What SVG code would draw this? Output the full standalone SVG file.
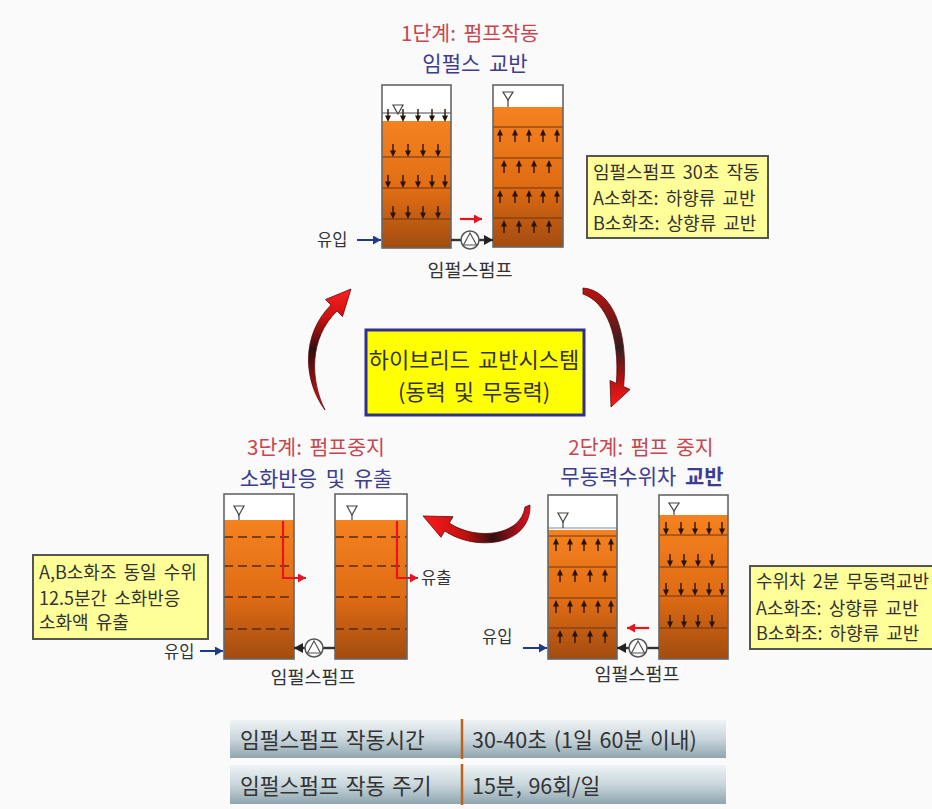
<svg xmlns="http://www.w3.org/2000/svg" width="932" height="809" viewBox="0 0 932 809">
<style>
  text{font-family:"Noto Sans CJK KR","Noto Sans",sans-serif;}
  .ttlR{font-size:20.5px;fill:#c8464f;text-anchor:middle;word-spacing:3px}
  .ttlB{font-size:21px;fill:#3d3d8f;text-anchor:middle;word-spacing:4px}
  .lbl{font-size:16.5px;fill:#333}
  .lblc{font-size:18.5px;fill:#333;text-anchor:middle}
  .box{fill:#ffff99;stroke:#555;stroke-width:2}
  .boxt{font-size:18px;fill:#333;word-spacing:3px}
  .tank{fill:none;stroke:#666;stroke-width:1.6}
  .water{fill:url(#wat)}
  .row{stroke:#6e3510;stroke-width:1.2}
  .dash{stroke:#5a2a0a;stroke-width:1.7;stroke-dasharray:9 5}
  .lvl{fill:#fff;stroke:#444;stroke-width:1.2}
  .pipe{stroke:#333;stroke-width:2.4;fill:none}
  .pipeA{stroke:#333;stroke-width:2.4;fill:none;marker-end:url(#mBlk)}
  .in{stroke:#1f3a8a;stroke-width:2;fill:none;marker-end:url(#mBlue)}
  .red{stroke:#e8141e;stroke-width:2.2;fill:none;marker-end:url(#mRed)}
  .pump{fill:#fff;stroke:#555;stroke-width:1.5}
  .ptri{fill:none;stroke:#555;stroke-width:1.2}
  .tbt{font-size:21.5px;fill:#333;word-spacing:2px}
</style>
<defs>
  <linearGradient id="wat" x1="0" y1="0" x2="0" y2="1">
    <stop offset="0" stop-color="#f5821f"/>
    <stop offset="0.55" stop-color="#e06c14"/>
    <stop offset="1" stop-color="#a24c10"/>
  </linearGradient>
  <linearGradient id="tg" x1="0" y1="0" x2="0" y2="1">
    <stop offset="0" stop-color="#eef3f5"/>
    <stop offset="0.5" stop-color="#c9d6dc"/>
    <stop offset="1" stop-color="#8fa5af"/>
  </linearGradient>
  <linearGradient id="gL" x1="0" y1="0" x2="0" y2="1">
    <stop offset="0" stop-color="#ff2020"/>
    <stop offset="0.25" stop-color="#c81010"/>
    <stop offset="0.5" stop-color="#2e1010"/>
    <stop offset="0.8" stop-color="#a01010"/>
    <stop offset="1" stop-color="#e81010"/>
  </linearGradient>
  <linearGradient id="gR" x1="0" y1="0" x2="0" y2="1">
    <stop offset="0" stop-color="#c01010"/>
    <stop offset="0.5" stop-color="#302020"/>
    <stop offset="0.75" stop-color="#b01010"/>
    <stop offset="1" stop-color="#ff1a1a"/>
  </linearGradient>
  <linearGradient id="gM" x1="0" y1="0" x2="1" y2="0">
    <stop offset="0" stop-color="#ff1a1a"/>
    <stop offset="0.4" stop-color="#c01010"/>
    <stop offset="0.65" stop-color="#301010"/>
    <stop offset="1" stop-color="#e01020"/>
  </linearGradient>
  <marker id="mBlue" markerUnits="userSpaceOnUse" markerWidth="9" markerHeight="9" refX="8" refY="4.5" orient="auto">
    <path d="M0,0 L8,4.5 L0,9 Z" fill="#1f3a8a"/>
  </marker>
  <marker id="mBlk" markerUnits="userSpaceOnUse" markerWidth="10" markerHeight="10" refX="9" refY="5" orient="auto">
    <path d="M0,0 L9,5 L0,10 Z" fill="#222"/>
  </marker>
  <marker id="mRed" markerUnits="userSpaceOnUse" markerWidth="9" markerHeight="9" refX="8" refY="4.5" orient="auto">
    <path d="M0,0 L8,4.5 L0,9 Z" fill="#e8141e"/>
  </marker>
  <!-- small flow arrows inside tanks: tip at origin -->
  <g id="dn"><line x1="0" y1="-13" x2="0" y2="-4" stroke="#2a1408" stroke-width="1.4"/><path d="M-3,-6.5 L3,-6.5 L0,0 Z" fill="#2a1408"/></g>
  <g id="up"><line x1="0" y1="13" x2="0" y2="4" stroke="#2a1408" stroke-width="1.4"/><path d="M-3,6.5 L3,6.5 L0,0 Z" fill="#2a1408"/></g>
  <g id="pumpSym"><circle r="9" class="pump"/><path d="M0,-7 L-6.5,5 L6.5,5 Z" class="ptri"/></g>
</defs>

<rect width="932" height="809" fill="#fafafa"/>

<!-- Stage 1: pump running, impulse mixing -->
<g id="stage1">
  <text class="ttlR" x="470" y="41">1단계: 펌프작동</text>
  <text class="ttlB" x="475" y="71">임펄스 교반</text>
  <!-- tank A -->
  <rect x="382" y="85" width="69" height="163" fill="#fff"/>
  <rect x="382" y="121" width="69" height="127" class="water"/>
  <line x1="382" y1="113" x2="451" y2="113" stroke="#444" stroke-width="1"/>
  <path d="M393,105 H403 L398,114 Z" class="lvl"/>
  <line x1="382" y1="157" x2="451" y2="157" class="row"/>
  <line x1="382" y1="188" x2="451" y2="188" class="row"/>
  <line x1="382" y1="219" x2="451" y2="219" class="row"/>
  <use href="#dn" x="388" y="122"/><use href="#dn" x="403" y="122"/><use href="#dn" x="418" y="122"/><use href="#dn" x="432" y="122"/><use href="#dn" x="445" y="122"/>
  <use href="#dn" x="393" y="157"/><use href="#dn" x="408" y="157"/><use href="#dn" x="423" y="157"/><use href="#dn" x="438" y="157"/>
  <use href="#dn" x="388" y="188"/><use href="#dn" x="403" y="188"/><use href="#dn" x="418" y="188"/><use href="#dn" x="432" y="188"/><use href="#dn" x="445" y="188"/>
  <use href="#dn" x="393" y="219"/><use href="#dn" x="408" y="219"/><use href="#dn" x="423" y="219"/><use href="#dn" x="438" y="219"/>
  <rect x="382" y="85" width="69" height="163" class="tank"/>
  <!-- tank B -->
  <rect x="493" y="85" width="70" height="162" fill="#fff"/>
  <rect x="493" y="107" width="70" height="140" class="water"/>
  <path d="M503,92 H513 L508,100 Z" class="lvl"/>
  <line x1="508" y1="100" x2="508" y2="107" stroke="#444" stroke-width="1.2"/>
  <line x1="493" y1="127" x2="563" y2="127" class="row"/>
  <line x1="493" y1="158" x2="563" y2="158" class="row"/>
  <line x1="493" y1="188" x2="563" y2="188" class="row"/>
  <line x1="493" y1="218" x2="563" y2="218" class="row"/>
  <use href="#up" x="500" y="129"/><use href="#up" x="515" y="129"/><use href="#up" x="529" y="129"/><use href="#up" x="543" y="129"/><use href="#up" x="557" y="129"/>
  <use href="#up" x="504" y="160"/><use href="#up" x="519" y="160"/><use href="#up" x="534" y="160"/><use href="#up" x="549" y="160"/>
  <use href="#up" x="500" y="190"/><use href="#up" x="515" y="190"/><use href="#up" x="529" y="190"/><use href="#up" x="543" y="190"/><use href="#up" x="557" y="190"/>
  <use href="#up" x="504" y="220"/><use href="#up" x="519" y="220"/><use href="#up" x="534" y="220"/><use href="#up" x="549" y="220"/>
  <rect x="493" y="85" width="70" height="162" class="tank"/>
  <!-- pump and flows -->
  <line x1="451" y1="240" x2="461" y2="240" class="pipe"/>
  <line x1="479" y1="240" x2="493" y2="240" class="pipeA"/>
  <use href="#pumpSym" x="470" y="240"/>
  <line x1="460" y1="219" x2="482" y2="219" class="red"/>
  <line x1="357" y1="240" x2="381" y2="240" class="in"/>
  <text class="lbl" x="317" y="246">유입</text>
  <text class="lblc" x="470" y="277">임펄스펌프</text>
</g>

<g id="note1">
  <rect x="587" y="156" width="181" height="82" class="box"/>
  <text class="boxt" x="593" y="179">임펄스펌프 30초 작동</text>
  <text class="boxt" x="593" y="205">A소화조: 하향류 교반</text>
  <text class="boxt" x="593" y="230">B소화조: 상향류 교반</text>
</g>

<g id="center">
  <rect x="366" y="330" width="218" height="85" fill="#ffff00" stroke="#2e3192" stroke-width="3"/>
  <text x="474" y="368" font-size="22" fill="#333" text-anchor="middle" word-spacing="3">하이브리드 교반시스템</text>
  <text x="474" y="400" font-size="22" fill="#333" text-anchor="middle" word-spacing="3">(동력 및 무동력)</text>
</g>

<!-- Stage 3: pump stopped, digestion and discharge -->
<g id="stage3">
  <text class="ttlR" x="316" y="455">3단계: 펌프중지</text>
  <text class="ttlB" x="316" y="486">소화반응 및 유출</text>
  <rect x="224" y="494" width="70" height="165" fill="#fff"/>
  <rect x="224" y="520" width="70" height="139" class="water"/>
  <path d="M234,506 H244 L239,515 Z" class="lvl"/>
  <line x1="239" y1="515" x2="239" y2="520" stroke="#444" stroke-width="1.2"/>
  <line x1="224" y1="537" x2="294" y2="537" class="dash"/>
  <line x1="224" y1="566" x2="294" y2="566" class="dash"/>
  <line x1="224" y1="597" x2="294" y2="597" class="dash"/>
  <line x1="224" y1="629" x2="294" y2="629" class="dash"/>
  <rect x="224" y="494" width="70" height="165" class="tank"/>
  <rect x="335" y="494" width="72" height="165" fill="#fff"/>
  <rect x="335" y="520" width="72" height="139" class="water"/>
  <path d="M347,506 H357 L352,515 Z" class="lvl"/>
  <line x1="352" y1="515" x2="352" y2="520" stroke="#444" stroke-width="1.2"/>
  <line x1="335" y1="537" x2="407" y2="537" class="dash"/>
  <line x1="335" y1="566" x2="407" y2="566" class="dash"/>
  <line x1="335" y1="597" x2="407" y2="597" class="dash"/>
  <line x1="335" y1="629" x2="407" y2="629" class="dash"/>
  <rect x="335" y="494" width="72" height="165" class="tank"/>
  <path d="M283,521 V578 H306" class="red"/>
  <path d="M397,521 V578 H418" class="red"/>
  <text class="lbl" x="421" y="584">유출</text>
  <line x1="335" y1="648" x2="323" y2="648" class="pipe"/>
  <line x1="305" y1="648" x2="294" y2="648" class="pipeA"/>
  <use href="#pumpSym" x="314" y="648"/>
  <line x1="200" y1="651" x2="223" y2="651" class="in"/>
  <text class="lbl" x="164" y="658">유입</text>
  <text class="lblc" x="313" y="684">임펄스펌프</text>
</g>

<g id="note3">
  <rect x="33" y="555" width="175" height="84" class="box"/>
  <text class="boxt" x="39" y="579">A,B소화조 동일 수위</text>
  <text class="boxt" x="39" y="605">12.5분간 소화반응</text>
  <text class="boxt" x="39" y="629">소화액 유출</text>
</g>

<!-- Stage 2: pump stopped, passive head-difference mixing -->
<g id="stage2">
  <text class="ttlR" x="641" y="455">2단계: 펌프 중지</text>
  <text class="ttlB" x="642" y="484">무동력수위차 <tspan font-weight="bold">교반</tspan></text>
  <rect x="548" y="495" width="69" height="164" fill="#fff"/>
  <line x1="548" y1="528" x2="617" y2="528" stroke="#9fb6c6" stroke-width="1.5"/>
  <rect x="548" y="530" width="69" height="129" class="water"/>
  <path d="M558,513 H568 L563,522 Z" class="lvl"/>
  <line x1="563" y1="522" x2="563" y2="528" stroke="#444" stroke-width="1.2"/>
  <line x1="548" y1="536" x2="617" y2="536" class="row"/>
  <line x1="548" y1="567" x2="617" y2="567" class="row"/>
  <line x1="548" y1="598" x2="617" y2="598" class="row"/>
  <line x1="548" y1="628" x2="617" y2="628" class="row"/>
  <use href="#up" x="556" y="538"/><use href="#up" x="570" y="538"/><use href="#up" x="584" y="538"/><use href="#up" x="598" y="538"/><use href="#up" x="611" y="538"/>
  <use href="#up" x="560" y="569"/><use href="#up" x="575" y="569"/><use href="#up" x="590" y="569"/><use href="#up" x="605" y="569"/>
  <use href="#up" x="556" y="600"/><use href="#up" x="570" y="600"/><use href="#up" x="584" y="600"/><use href="#up" x="598" y="600"/><use href="#up" x="611" y="600"/>
  <use href="#up" x="560" y="630"/><use href="#up" x="575" y="630"/><use href="#up" x="590" y="630"/><use href="#up" x="605" y="630"/>
  <rect x="548" y="495" width="69" height="164" class="tank"/>
  <rect x="659" y="495" width="69" height="164" fill="#fff"/>
  <rect x="659" y="515" width="69" height="144" class="water"/>
  <path d="M669,503 H679 L674,511 Z" class="lvl"/>
  <line x1="674" y1="511" x2="674" y2="515" stroke="#444" stroke-width="1.2"/>
  <line x1="659" y1="535" x2="728" y2="535" class="row"/>
  <line x1="659" y1="567" x2="728" y2="567" class="row"/>
  <line x1="659" y1="596" x2="728" y2="596" class="row"/>
  <line x1="659" y1="628" x2="728" y2="628" class="row"/>
  <use href="#dn" x="666" y="535"/><use href="#dn" x="681" y="535"/><use href="#dn" x="695" y="535"/><use href="#dn" x="709" y="535"/><use href="#dn" x="722" y="535"/>
  <use href="#dn" x="670" y="567"/><use href="#dn" x="684" y="567"/><use href="#dn" x="698" y="567"/><use href="#dn" x="712" y="567"/>
  <use href="#dn" x="666" y="596"/><use href="#dn" x="681" y="596"/><use href="#dn" x="695" y="596"/><use href="#dn" x="709" y="596"/><use href="#dn" x="722" y="596"/>
  <use href="#dn" x="670" y="628"/><use href="#dn" x="684" y="628"/><use href="#dn" x="698" y="628"/><use href="#dn" x="712" y="628"/>
  <rect x="659" y="495" width="69" height="164" class="tank"/>
  <line x1="659" y1="648" x2="647" y2="648" class="pipe"/>
  <line x1="629" y1="648" x2="617" y2="648" class="pipeA"/>
  <use href="#pumpSym" x="638" y="648"/>
  <line x1="649" y1="628" x2="627" y2="628" class="red"/>
  <line x1="523" y1="648" x2="547" y2="648" class="in"/>
  <text class="lbl" x="482" y="643">유입</text>
  <text class="lblc" x="637" y="681">임펄스펌프</text>
</g>

<g id="note2">
  <rect x="750" y="566" width="192" height="83" class="box"/>
  <text class="boxt" x="756" y="588">수위차 2분 무동력교반</text>
  <text class="boxt" x="756" y="615">A소화조: 상향류 교반</text>
  <text class="boxt" x="756" y="640">B소화조: 하향류 교반</text>
</g>

<!-- cycle connectors between the stages -->
<g id="connectors">
  <path d="M325,410 C303,380 301,335 331,305 L325.5,299.5 L351,289 L342.5,316.5 L337,311 C309,338 310,380 325,410 Z" fill="url(#gL)" stroke="#5a0a0a" stroke-width="0.8"/>
  <path d="M583,288 C612,290 629,330 623.6,386.6 L630,389.5 L611,407 L610,380.5 L616.4,383.4 C620,335 606,302 583,294 Z" fill="url(#gR)" stroke="#5a0a0a" stroke-width="0.8"/>
  <path d="M530,505 C531,546 476,552 444.7,530.9 L441,537.3 L423,516 L453,516.7 L449.3,523.1 C476,541 521,536 525,507 Z" fill="url(#gM)" stroke="#5a0a0a" stroke-width="0.8"/>
</g>

<!-- operating parameters -->
<g id="table">
  <rect x="230" y="720" width="496" height="38" fill="url(#tg)"/>
  <rect x="230" y="765" width="496" height="39" fill="url(#tg)"/>
  <line x1="462" y1="719" x2="462" y2="759" stroke="#c0601a" stroke-width="2.5"/>
  <line x1="462" y1="764" x2="462" y2="805" stroke="#c0601a" stroke-width="2.5"/>
  <text class="tbt" x="240" y="748">임펄스펌프 작동시간</text>
  <text class="tbt" x="472" y="748">30-40초 (1일 60분 이내)</text>
  <text class="tbt" x="240" y="794">임펄스펌프 작동 주기</text>
  <text class="tbt" x="472" y="794">15분, 96회/일</text>
</g>
</svg>
